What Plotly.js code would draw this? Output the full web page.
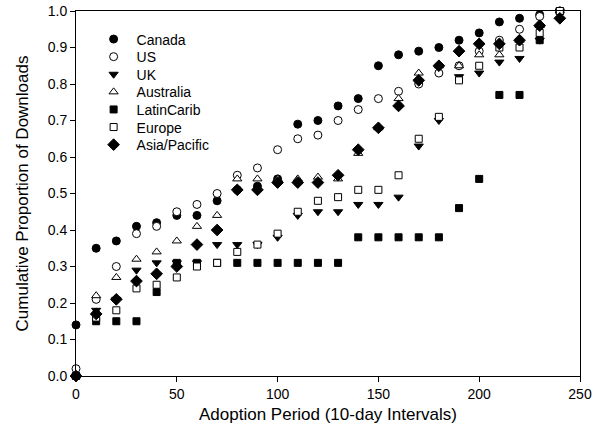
<!DOCTYPE html>
<html>
<head>
<meta charset="utf-8">
<script src="https://cdn.plot.ly/plotly-3.0.1.min.js"></script>
<style>html,body{margin:0;padding:0;background:#fff}#chart{width:592px;height:438px}</style>
</head>
<body>
<div id="chart"></div>
<script>
const periods = [0,10,20,30,40,50,60,70,80,90,100,110,120,130,140,150,160,170,180,190,200,210,220,230,240];
const canada    = [0.14,0.35,0.37,0.41,0.42,0.44,0.44,0.48,0.51,0.52,0.54,0.69,0.70,0.74,0.76,0.85,0.88,0.89,0.90,0.92,0.94,0.97,0.98,0.99,1.00];
const us        = [0.02,0.21,0.30,0.39,0.41,0.45,0.47,0.50,0.55,0.57,0.62,0.65,0.66,0.70,0.73,0.76,0.78,0.80,0.83,0.85,0.89,0.92,0.95,0.985,1.00];
const uk        = [0.00,0.18,0.21,0.29,0.31,0.31,0.31,0.36,0.36,0.36,0.38,0.44,0.45,0.45,0.47,0.47,0.49,0.63,0.70,0.82,0.83,0.86,0.87,0.92,1.00];
const australia = [0.00,0.22,0.27,0.32,0.34,0.37,0.41,0.44,0.54,0.54,0.54,0.54,0.545,0.54,0.61,0.68,0.76,0.83,0.85,0.85,0.88,0.88,0.92,0.96,1.00];
const latinCarib= [0.00,0.15,0.15,0.15,0.23,0.31,0.31,0.31,0.31,0.31,0.31,0.31,0.31,0.31,0.38,0.38,0.38,0.38,0.38,0.46,0.54,0.77,0.77,0.92,1.00];
const europe    = [0.00,0.16,0.18,0.24,0.25,0.27,0.30,0.31,0.34,0.36,0.39,0.45,0.48,0.49,0.51,0.51,0.55,0.65,0.71,0.81,0.85,0.90,0.90,0.94,1.00];
const asiaPac   = [0.00,0.17,0.21,0.26,0.28,0.30,0.36,0.40,0.51,0.51,0.53,0.53,0.53,0.55,0.62,0.68,0.74,0.81,0.85,0.89,0.91,0.91,0.92,0.96,0.98];
const xTickVals = [0,50,100,150,200,250];
const yTickVals = [0,0.1,0.2,0.3,0.4,0.5,0.6,0.7,0.8,0.9,1.0];

const seriesNames = ['Canada','US','UK','Australia','LatinCarib','Europe','Asia/Pacific'];
const seriesData = [canada, us, uk, australia, latinCarib, europe, asiaPac];
const seriesSymbols = ['circle','circle','triangle-down','triangle-up','square','square','diamond'];
const seriesFilled = [true,false,true,false,true,false,true];
const seriesSizes = [8,8,8,8,7,7,9];

const legendId = i => i === 0 ? 'legend' : 'legend' + (i + 1);

const traces = seriesNames.map((n,i)=>({
  type:'scatter', mode:'markers', name:n, x:periods, y:seriesData[i],
  cliponaxis:false, legend: legendId(i),
  marker:{symbol:seriesSymbols[i], size:seriesSizes[i],
    color: seriesFilled[i] ? '#000' : '#fff',
    line:{color:'#000', width:1}}
}));

const fontFamily = '"Liberation Sans", Arial, sans-serif';
const font = {family:fontFamily, size:14, color:'#000'};
const titleFont = {family:fontFamily, size:17, color:'#000'};
const layout = {
  width:592, height:438,
  margin:{l:76, r:12, t:11, b:62},
  paper_bgcolor:'#fff', plot_bgcolor:'#fff',
  font: font,
  showlegend:true,
  xaxis:{range:[0,250], tickvals:xTickVals, ticks:'outside', ticklen:5, tickcolor:'#000',
    showline:true, linecolor:'#000', linewidth:1, mirror:true, showgrid:false, zeroline:false,
    title:{text:'Adoption Period (10-day Intervals)', font:titleFont, standoff:7}},
  yaxis:{range:[0,1], tickvals:yTickVals, tickformat:'.1f', ticks:'outside', ticklen:5, tickcolor:'#000',
    showline:true, linecolor:'#000', linewidth:1, mirror:true, showgrid:false, zeroline:false,
    title:{text:'Cumulative Proportion of Downloads', font:titleFont, standoff:14}}
};
seriesNames.forEach((n,i)=>{
  layout[legendId(i)] = {x:0.029, y:0.922 - i*0.0482, xanchor:'left', yanchor:'middle',
    itemwidth:36,
    bgcolor:'rgba(0,0,0,0)', font:{family:fontFamily, size:14, color:'#000'}, itemsizing:'trace'};
});
Plotly.newPlot('chart', traces, layout, {displayModeBar:false, staticPlot:true});
</script>
</body>
</html>
